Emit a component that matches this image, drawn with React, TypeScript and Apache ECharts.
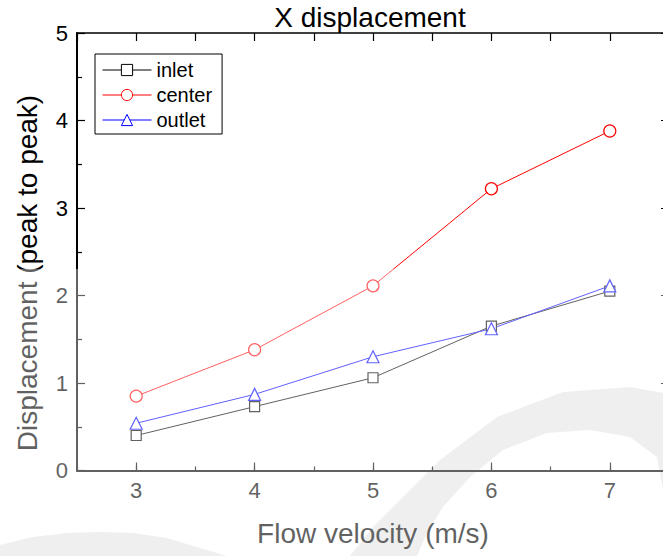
import React, { useEffect, useRef } from "react";
import * as echarts from "echarts";

const velocities = [3, 4, 5, 6, 7];
const inletValues = [0.4, 0.73, 1.06, 1.65, 2.05];
const centerValues = [0.85, 1.38, 2.11, 3.22, 3.88];
const outletValues = [0.54, 0.87, 1.3, 1.62, 2.11];
const xMajorTicks = [3, 4, 5, 6, 7];
const titleText = "X displacement";
const xName = "Flow velocity (m/s)";
const yName = "Displacement (peak to peak)";

const FONT = "Liberation Sans, Arial, Helvetica, sans-serif";

function pairs(ys: number[]) {
  return velocities.map((x, i) => [x, ys[i]]);
}

export default function App() {
  const ref = useRef<HTMLDivElement>(null);
  useEffect(() => {
    if (!ref.current) return;
    const chart = echarts.init(ref.current, undefined, { renderer: "svg" });
    const mkSeries = (name: string, data: number[], color: string, symbol: string, size: number) => ({
      name,
      type: "line",
      data: pairs(data),
      xAxisIndex: 0,
      yAxisIndex: 0,
      symbol,
      symbolSize: size,
      showSymbol: true,
      lineStyle: { color, width: 1 },
      itemStyle: { color: "#ffffff", borderColor: color, borderWidth: 1.2 },
      emphasis: { disabled: true },
      z: 5,
    });
    const axisLine = (w: number) => ({ show: true, lineStyle: { color: "#000", width: w } });
    chart.setOption({
      animation: false,
      backgroundColor: "#ffffff",
      title: {
        text: titleText,
        left: 370,
        top: 3,
        padding: 0,
        textAlign: "center",
        textStyle: { fontSize: 28, fontWeight: "normal", color: "#000", fontFamily: FONT },
      },
      legend: {
        left: 95,
        top: 54,
        orient: "vertical",
        itemWidth: 49,
        itemHeight: 14,
        itemGap: 5,
        padding: [6, 10, 4, 7],
        borderColor: "#000",
        borderWidth: 1,
        backgroundColor: "#fff",
        lineStyle: { width: 1 },
        itemStyle: { borderWidth: 1 },
        textStyle: { fontSize: 20, lineHeight: 20, color: "#000", fontFamily: FONT },
        data: ["inlet", "center", "outlet"],
      },
      grid: {
        left: 77,
        top: 33,
        width: 592,
        height: 437.5,
        containLabel: false,
        outerBoundsMode: "none",
      },
      xAxis: [
        {
          type: "value",
          position: "bottom",
          min: 2.5,
          max: 7.5,
          interval: 0.5,
          axisLine: axisLine(2),
          axisTick: { show: true, inside: true, length: 4, lineStyle: { color: "#000", width: 1.2 } },
          axisLabel: {
            margin: 9,
            fontSize: 22,
            color: "#000",
            fontFamily: FONT,
            formatter: (v: number) => (Number.isInteger(v) ? String(v) : ""),
          },
          splitLine: { show: false },
        },
        {
          type: "value",
          position: "bottom",
          min: 2.5,
          max: 7.5,
          interval: 0.5,
          axisLine: { show: false },
          axisTick: {
            show: true,
            inside: true,
            length: 8,
            customValues: xMajorTicks,
            lineStyle: { color: "#000", width: 1.2 },
          },
          axisLabel: { show: false },
          splitLine: { show: false },
        },
        {
          type: "value",
          position: "top",
          min: 2.5,
          max: 7.5,
          interval: 0.5,
          axisLine: axisLine(1.5),
          axisTick: { show: true, inside: true, length: 8, lineStyle: { color: "#000", width: 1.2 } },
          axisLabel: { show: false },
          splitLine: { show: false },
        },
      ],
      yAxis: [
        {
          type: "value",
          position: "left",
          min: 0,
          max: 5,
          interval: 1,
          axisLine: axisLine(2),
          axisTick: { show: true, inside: true, length: 8, lineStyle: { color: "#000", width: 1.2 } },
          minorTick: { show: true, splitNumber: 2, length: 5, lineStyle: { color: "#000", width: 1.2 } },
          axisLabel: { margin: 9, fontSize: 22, color: "#000", fontFamily: FONT },
          splitLine: { show: false },
          minorSplitLine: { show: false },
        },
        {
          type: "value",
          position: "right",
          min: 0,
          max: 5,
          interval: 1,
          axisLine: axisLine(1.5),
          axisTick: { show: true, inside: true, length: 8, lineStyle: { color: "#000", width: 1.2 } },
          minorTick: { show: true, splitNumber: 2, length: 5, lineStyle: { color: "#000", width: 1.2 } },
          axisLabel: { show: false },
          splitLine: { show: false },
        },
      ],
      series: [
        mkSeries("inlet", inletValues, "#000000", "rect", 10),
        mkSeries("center", centerValues, "#ff0000", "circle", 12),
        mkSeries("outlet", outletValues, "#0000ff", "triangle", 12),
      ],
      graphic: [
        {
          type: "polygon",
          z: -10,
          silent: true,
          shape: {
            points: [
              [350, 556], [372, 528], [397, 503], [440, 460], [497, 417], [563, 392],
              [630, 387], [663, 393], [663, 490], [657, 457], [630, 437], [590, 430],
              [547, 433], [503, 450], [470, 477], [443, 507], [427, 533], [417, 556],
            ],
          },
          style: { fill: "#e6e6e6" },
        },
        {
          type: "polygon",
          z: -10,
          silent: true,
          shape: {
            points: [
              [0, 545], [33, 537], [67, 533], [100, 532], [133, 533], [167, 538], [200, 548], [227, 556], [0, 556],
            ],
          },
          style: { fill: "#e6e6e6" },
        },
        {
          type: "text",
          x: 373,
          y: 533.5,
          z: 10,
          silent: true,
          style: {
            text: xName,
            fontSize: 28,
            fontFamily: FONT,
            fill: "#000",
            align: "center",
            verticalAlign: "middle",
          },
        },
        {
          type: "text",
          x: 27,
          y: 273,
          rotation: Math.PI / 2,
          z: 10,
          silent: true,
          style: {
            text: yName,
            fontSize: 28,
            fontFamily: FONT,
            fill: "#000",
            align: "center",
            verticalAlign: "middle",
          },
        },
        {
          type: "rect",
          z: 1000,
          silent: true,
          shape: { x: 0, y: 269, width: 663, height: 287 },
          style: { fill: "rgba(255,255,255,0.38)" },
        },
      ],
    });
    return () => chart.dispose();
  }, []);
  return (
    <div
      ref={ref}
      style={{ position: "absolute", left: 0, top: 0, width: 663, height: 556 }}
    />
  );
}
